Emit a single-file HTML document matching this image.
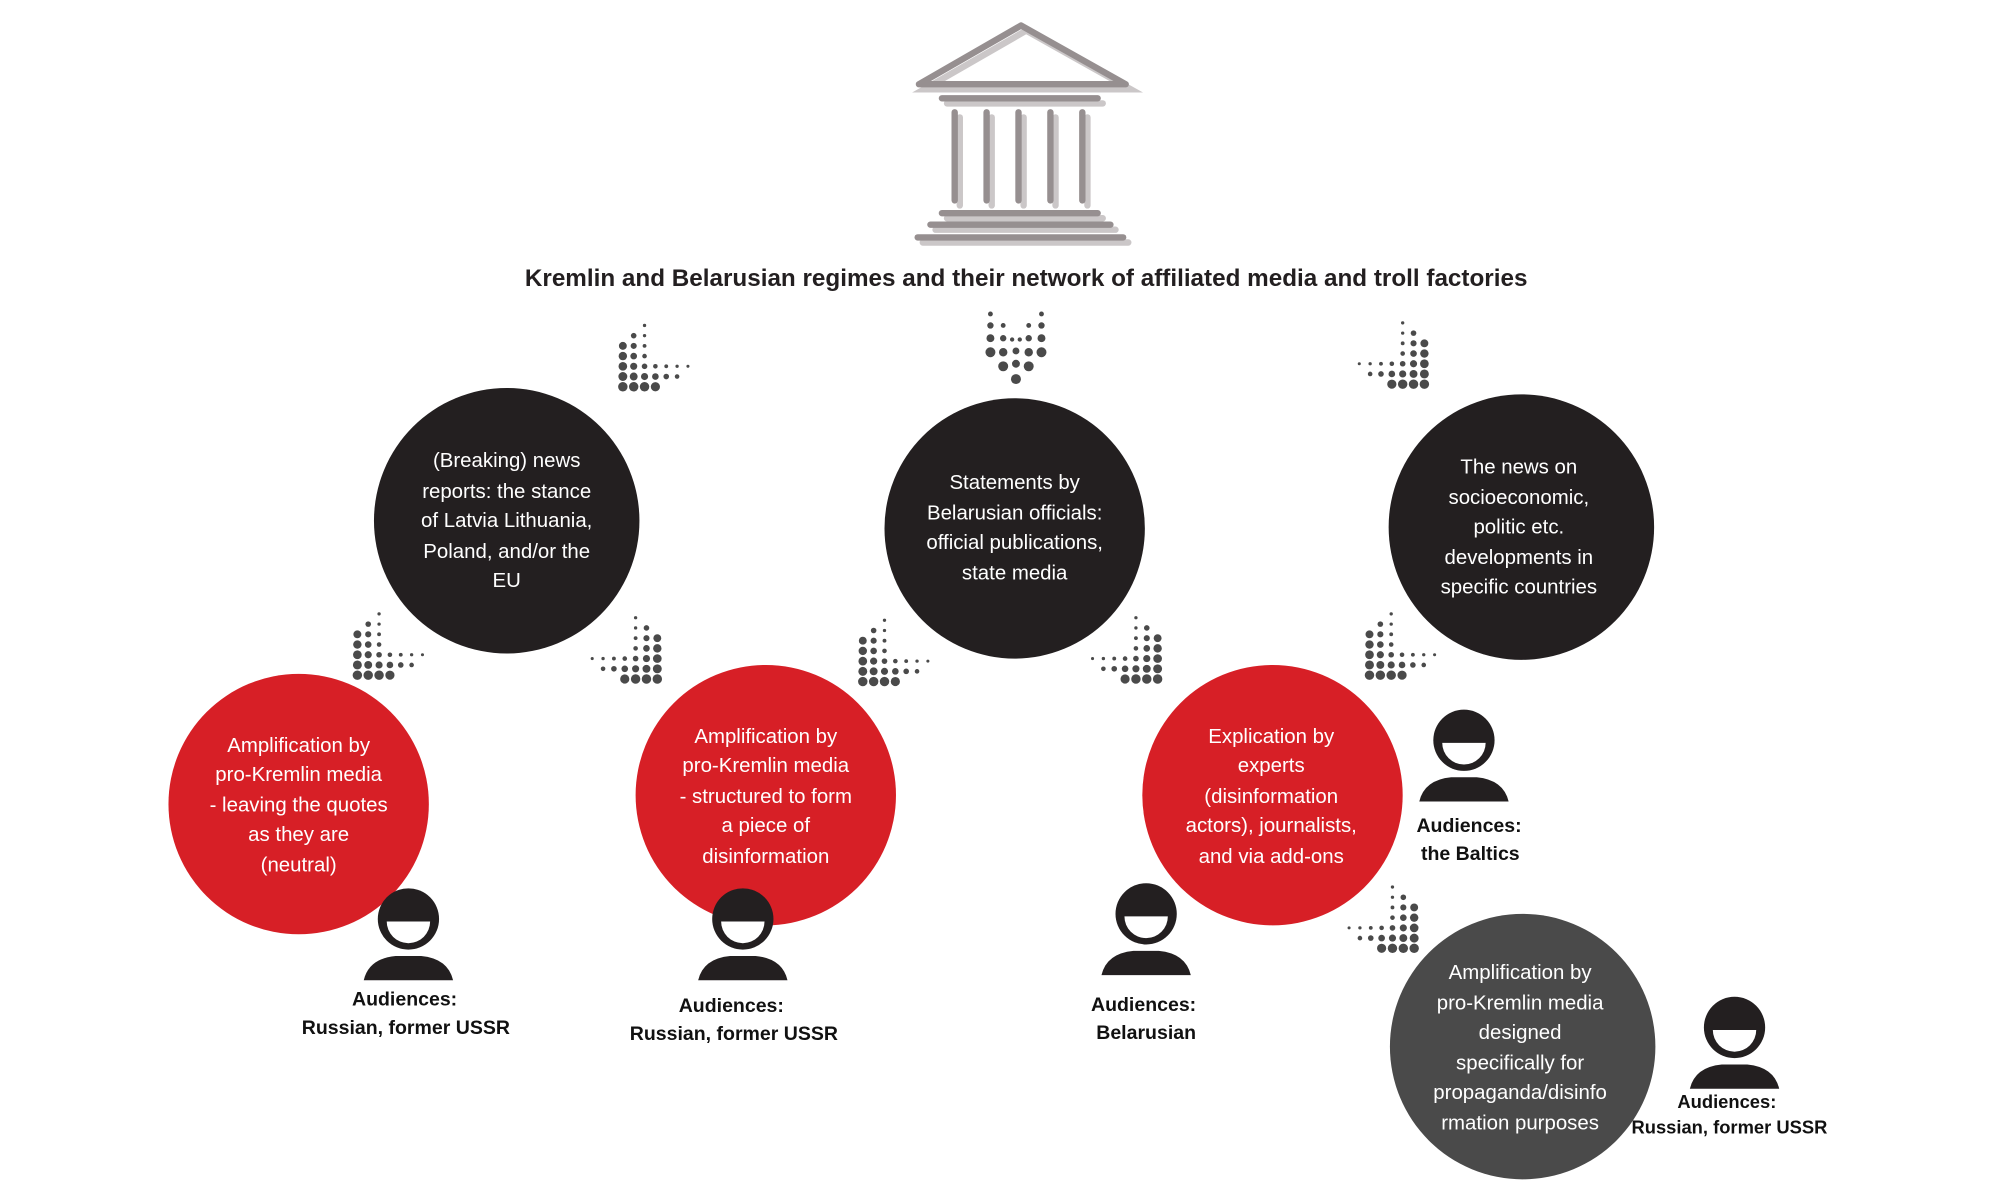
<!DOCTYPE html>
<html><head><meta charset="utf-8"><style>
html,body{margin:0;padding:0;background:#fff;width:2000px;height:1200px;overflow:hidden}
svg{display:block}
.ct{font-family:"Liberation Sans",sans-serif;font-size:16px;fill:#fff;text-anchor:middle}
.au{font-family:"Liberation Sans",sans-serif;font-size:15.3px;font-weight:bold;fill:#111;text-anchor:middle}
</style></head><body>
<svg width="2000" height="1200" viewBox="0 0 1567 940.2" xmlns="http://www.w3.org/2000/svg">
<defs>
<g id="L" fill="#4a4a4a">
<circle cx="4" cy="53" r="3.7"/><circle cx="12.5" cy="53" r="3.7"/><circle cx="21" cy="53" r="3.7"/><circle cx="29.5" cy="53" r="3.6"/>
<circle cx="4" cy="45" r="3.5"/><circle cx="12.5" cy="45" r="3.1"/><circle cx="21" cy="45" r="2.8"/><circle cx="29.5" cy="45" r="2.6"/><circle cx="38" cy="45" r="2.2"/><circle cx="46.5" cy="45" r="1.8"/>
<circle cx="4" cy="37" r="3.4"/><circle cx="12.5" cy="37" r="2.8"/><circle cx="21" cy="37" r="2.2"/><circle cx="29.5" cy="37" r="1.8"/><circle cx="38" cy="37" r="1.5"/><circle cx="46.5" cy="37" r="1.3"/><circle cx="55" cy="37" r="1.2"/>
<circle cx="4" cy="29" r="3.3"/><circle cx="12.5" cy="29" r="2.6"/><circle cx="21" cy="29" r="1.8"/>
<circle cx="4" cy="21" r="3.1"/><circle cx="12.5" cy="21" r="2.4"/><circle cx="21" cy="21" r="1.5"/>
<circle cx="12.5" cy="13" r="2.2"/><circle cx="21" cy="13" r="1.3"/>
<circle cx="21" cy="5" r="1.3"/>
</g>
<g id="V" fill="#4a4a4a">
<circle cx="0" cy="51" r="3.9"/>
<circle cx="-10" cy="41" r="3.9"/><circle cx="0" cy="39" r="3.1"/><circle cx="10" cy="41" r="3.9"/>
<circle cx="-20" cy="30" r="3.9"/><circle cx="-10" cy="30" r="3.3"/><circle cx="0" cy="29" r="2.7"/><circle cx="10" cy="30" r="3.3"/><circle cx="20" cy="30" r="3.9"/>
<circle cx="-20" cy="19" r="3.1"/><circle cx="-10" cy="19" r="2.5"/><circle cx="-3" cy="20" r="1.7"/><circle cx="3" cy="20" r="1.7"/><circle cx="10" cy="19" r="2.5"/><circle cx="20" cy="19" r="3.1"/>
<circle cx="-20" cy="9" r="2.5"/><circle cx="-10" cy="9" r="1.9"/><circle cx="10" cy="9" r="1.9"/><circle cx="20" cy="9" r="2.5"/>
<circle cx="-20" cy="0" r="1.9"/><circle cx="20" cy="0" r="1.9"/>
</g>
<g id="P">
<circle cx="0" cy="0" r="24" fill="#231f20"/>
<path d="M-17 2 A17 17 0 0 0 17 2 Z" fill="#fff"/>
<path d="M-35 48 Q-31 31 -10 29 L10 29 Q31 31 35 48 Z" fill="#231f20"/>
</g>
</defs>

<!-- temple -->
<g stroke-linecap="round" fill="none">
<g stroke="#cbc7c8" transform="translate(4,4)" stroke-width="5">
<path d="M720 66 L800 20 L882 66 Z"/>
<line x1="738" y1="77" x2="860" y2="77"/>
<line x1="748" y1="88" x2="748" y2="157"/><line x1="773" y1="88" x2="773" y2="157"/><line x1="798" y1="88" x2="798" y2="157"/><line x1="823" y1="88" x2="823" y2="157"/><line x1="848" y1="88" x2="848" y2="157"/>
<line x1="738" y1="167" x2="860" y2="167"/><line x1="729" y1="176" x2="870" y2="176"/><line x1="719" y1="186" x2="880" y2="186"/>
</g>
<g stroke="#968f90" stroke-width="5">
<path d="M720 66 L800 20 L882 66 Z" stroke-linejoin="round"/>
<line x1="738" y1="77" x2="860" y2="77"/>
<line x1="748" y1="88" x2="748" y2="157"/><line x1="773" y1="88" x2="773" y2="157"/><line x1="798" y1="88" x2="798" y2="157"/><line x1="823" y1="88" x2="823" y2="157"/><line x1="848" y1="88" x2="848" y2="157"/>
<line x1="738" y1="167" x2="860" y2="167"/><line x1="729" y1="176" x2="870" y2="176"/><line x1="719" y1="186" x2="880" y2="186"/>
</g>
</g>
<text x="804" y="224" font-family="Liberation Sans,sans-serif" font-size="19" font-weight="bold" fill="#231f20" text-anchor="middle">Kremlin and Belarusian regimes and their network of affiliated media and troll factories</text>

<!-- arrows -->
<use href="#L" transform="translate(484,250)"/>
<use href="#V" transform="translate(796,246)"/>
<use href="#L" transform="translate(1120,248) scale(-1,1)"/>
<use href="#L" transform="translate(276,476)"/>
<use href="#L" transform="translate(519,479) scale(-1,1)"/>
<use href="#L" transform="translate(672,481)"/>
<use href="#L" transform="translate(911,479) scale(-1,1)"/>
<use href="#L" transform="translate(1069,476)"/>
<use href="#L" transform="translate(1112,690) scale(-1,1)"/>

<!-- circles -->
<circle cx="397" cy="408" r="104" fill="#231f20"/>
<text class="ct"><tspan x="397" y="366">(Breaking) news</tspan><tspan x="397" y="390">reports: the stance</tspan><tspan x="397" y="413">of Latvia Lithuania,</tspan><tspan x="397" y="437">Poland, and/or the</tspan><tspan x="397" y="460">EU</tspan></text>

<circle cx="795" cy="414" r="102" fill="#231f20"/>
<text class="ct"><tspan x="795" y="383">Statements by</tspan><tspan x="795" y="407">Belarusian officials:</tspan><tspan x="795" y="430">official publications,</tspan><tspan x="795" y="454">state media</tspan></text>

<circle cx="1192" cy="413" r="104" fill="#231f20"/>
<text class="ct"><tspan x="1190" y="371">The news on</tspan><tspan x="1190" y="395">socioeconomic,</tspan><tspan x="1190" y="418">politic etc.</tspan><tspan x="1190" y="442">developments in</tspan><tspan x="1190" y="465">specific countries</tspan></text>

<circle cx="234" cy="630" r="102" fill="#d71f26"/>
<text class="ct"><tspan x="234" y="589">Amplification by</tspan><tspan x="234" y="612">pro-Kremlin media</tspan><tspan x="234" y="636">- leaving the quotes</tspan><tspan x="234" y="659">as they are</tspan><tspan x="234" y="683">(neutral)</tspan></text>

<circle cx="600" cy="623" r="102" fill="#d71f26"/>
<text class="ct"><tspan x="600" y="582">Amplification by</tspan><tspan x="600" y="605">pro-Kremlin media</tspan><tspan x="600" y="629">- structured to form</tspan><tspan x="600" y="652">a piece of</tspan><tspan x="600" y="676">disinformation</tspan></text>

<circle cx="997" cy="623" r="102" fill="#d71f26"/>
<text class="ct"><tspan x="996" y="582">Explication by</tspan><tspan x="996" y="605">experts</tspan><tspan x="996" y="629">(disinformation</tspan><tspan x="996" y="652">actors), journalists,</tspan><tspan x="996" y="676">and via add-ons</tspan></text>

<circle cx="1193" cy="820" r="104" fill="#4a4a4a"/>
<text class="ct"><tspan x="1191" y="767">Amplification by</tspan><tspan x="1191" y="791">pro-Kremlin media</tspan><tspan x="1191" y="814">designed</tspan><tspan x="1191" y="838">specifically for</tspan><tspan x="1191" y="861">propaganda/disinfo</tspan><tspan x="1191" y="885">rmation purposes</tspan></text>

<!-- persons -->
<use href="#P" transform="translate(320,720)"/>
<text class="au"><tspan x="317" y="788">Audiences:</tspan><tspan x="318" y="810">Russian, former USSR</tspan></text>
<use href="#P" transform="translate(582,720)"/>
<text class="au"><tspan x="573" y="793">Audiences:</tspan><tspan x="575" y="815">Russian, former USSR</tspan></text>
<use href="#P" transform="translate(898,716)"/>
<text class="au"><tspan x="896" y="792">Audiences:</tspan><tspan x="898" y="814">Belarusian</tspan></text>
<use href="#P" transform="translate(1147,580)"/>
<text class="au"><tspan x="1151" y="652">Audiences:</tspan><tspan x="1152" y="674">the Baltics</tspan></text>
<use href="#P" transform="translate(1359,805)"/>
<text class="au" style="font-size:14.4px"><tspan x="1353" y="868">Audiences:</tspan><tspan x="1355" y="888">Russian, former USSR</tspan></text>
</svg>
</body></html>
